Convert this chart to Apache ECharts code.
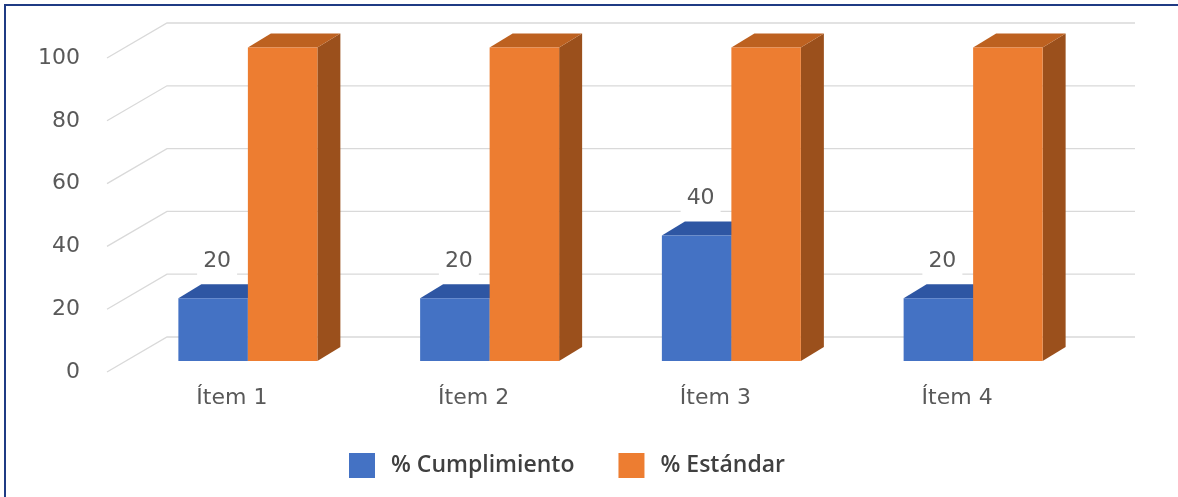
<!DOCTYPE html>
<html><head><meta charset="utf-8">
<script src="https://cdn.jsdelivr.net/npm/echarts@6/dist/echarts.min.js"></script>
<style>html,body{margin:0;padding:0;background:#fff}#c{width:1178px;height:497px}</style>
</head><body><div id="c"></div>
<script>
const categories = ['Ítem 1', 'Ítem 2', 'Ítem 3', 'Ítem 4'];
const cumplimiento = [20, 20, 40, 20];
const estandar = [100, 100, 100, 100];
const yTicks = [0, 20, 40, 60, 80, 100];
const seriesNames = ['% Cumplimiento', '% Estándar'];

const DX = 23, DY = -14;
const AXIS_FONT = '"DejaVu Sans", sans-serif';

function bar3d(sideIdx, frontColor, topColor, sideColor) {
  return function (params, api) {
    const idx = api.value(0), v = api.value(1);
    const base = api.coord([idx, 0]);
    const topP = api.coord([idx, v]);
    const band = api.size([1, 0])[0];
    const w = band * 0.2875;
    const x0 = sideIdx === 0 ? base[0] - w : base[0];
    const x1 = x0 + w;
    const y0 = topP[1], y1 = base[1];
    return {
      type: 'group',
      children: [
        { type: 'polygon', shape: { points: [[x1, y0], [x1 + DX, y0 + DY], [x1 + DX, y1 + DY], [x1, y1]] }, style: { fill: sideColor } },
        { type: 'polygon', shape: { points: [[x0, y0], [x0 + DX, y0 + DY], [x1 + DX, y0 + DY], [x1, y0]] }, style: { fill: topColor } },
        { type: 'rect', shape: { x: x0, y: y0, width: w, height: y1 - y0 }, style: { fill: frontColor } }
      ]
    };
  };
}

const chart = echarts.init(document.getElementById('c'), null, { renderer: 'canvas' });
chart.setOption({
  animation: false,
  backgroundColor: '#ffffff',
  graphic: [
    { type: 'rect', shape: { x: 4, y: 4, width: 1174, height: 2 }, style: { fill: '#1F3B84' }, z: 100 },
    { type: 'rect', shape: { x: 4, y: 4, width: 2, height: 493 }, style: { fill: '#1F3B84' }, z: 100 }
  ],
  grid: [
    { left: 127, right: 84, top: 47.5, bottom: 136 },
    { left: 107, right: 103, top: 58, bottom: 125 }
  ],
  xAxis: [
    {
      type: 'category', data: categories, gridIndex: 0,
      axisLine: { show: false }, axisTick: { show: false }, splitLine: { show: false },
      axisLabel: { margin: 26, color: '#595959', fontSize: 22, fontFamily: AXIS_FONT, padding: [0, 32, 0, 0] }
    },
    { type: 'value', gridIndex: 1, min: 0, max: 1, show: false }
  ],
  yAxis: [
    { type: 'value', gridIndex: 0, min: 0, max: 100, interval: 20, show: false },
    {
      type: 'value', gridIndex: 1, min: 0, max: 100, interval: 20,
      axisLine: { show: false }, axisTick: { show: false }, splitLine: { show: false },
      axisLabel: { margin: 27, color: '#595959', fontSize: 22, fontFamily: AXIS_FONT }
    }
  ],
  legend: {
    data: seriesNames, left: 344, top: 448, itemWidth: 26, itemHeight: 25, itemGap: 44, icon: 'rect',
    textStyle: { fontFamily: '"Open Sans", sans-serif', fontWeight: 600, fontSize: 23, color: '#404040', padding: [0, 0, 0, 11] }
  },
  series: [
    {
      type: 'custom', name: 'grid', xAxisIndex: 1, yAxisIndex: 1, z: 1, silent: true,
      data: yTicks.map(v => [0, v]),
      renderItem: function (params, api) {
        const v = api.value(1);
        const p0 = api.coord([0, v]);
        const pr = api.coord([1, v]);
        return {
          type: 'polyline',
          shape: { points: [p0, [p0[0] + 60, p0[1] - 35], [pr[0] + 60, pr[1] - 35]] },
          style: { stroke: '#d9d9d9', lineWidth: 1.3, fill: null }
        };
      }
    },
    {
      type: 'custom', name: seriesNames[0], xAxisIndex: 0, yAxisIndex: 0, z: 2,
      itemStyle: { color: '#4472C4' },
      data: categories.map((c, i) => [i, cumplimiento[i]]),
      renderItem: bar3d(0, '#4472C4', '#2E56A3', '#2A4F94')
    },
    {
      type: 'custom', name: seriesNames[1], xAxisIndex: 0, yAxisIndex: 0, z: 3,
      itemStyle: { color: '#ED7D31' },
      data: categories.map((c, i) => [i, estandar[i]]),
      renderItem: bar3d(1, '#ED7D31', '#BD6120', '#9B501C')
    },
    {
      type: 'custom', name: 'labels', xAxisIndex: 0, yAxisIndex: 0, z: 4, silent: true,
      data: categories.map((c, i) => [i, cumplimiento[i]]),
      renderItem: function (params, api) {
        const idx = api.value(0), v = api.value(1);
        const base = api.coord([idx, 0]);
        const topP = api.coord([idx, v]);
        const band = api.size([1, 0])[0];
        const w = band * 0.2875;
        return {
          type: 'text',
          x: base[0] - w / 2 + 4, y: topP[1] - 37,
          style: {
            text: String(v), fill: '#595959', font: '22px "DejaVu Sans", sans-serif',
            align: 'center', verticalAlign: 'middle', backgroundColor: '#ffffff', padding: [3, 6]
          }
        };
      }
    }
  ]
});
</script>
</body></html>
